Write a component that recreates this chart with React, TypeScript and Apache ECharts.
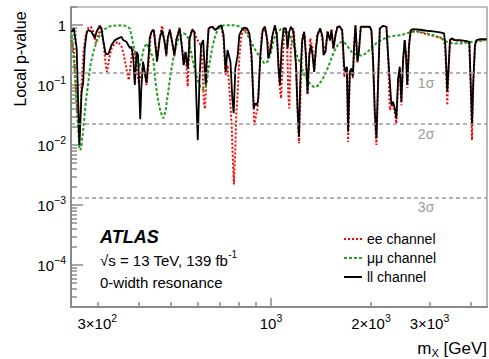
import React, { useEffect, useRef } from "react";
import * as echarts from "echarts";

// ---- data: [mass (GeV), local p-value] ----
const eeData: [number, number][] = [
  [251,0.562],[255,0.383],[260,0.0562],[265,0.0121],[269,0.100],[273,0.383],[277,0.681],[282,0.902],[287,0.937],[292,0.773],[297,0.495],[302,0.681],[307,0.881],[313,0.527],[318,0.215],[321,0.167],[326,0.279],[331,0.409],[339,0.495],[347,0.527],[355,0.435],[360.5,0.316],[367,0.190],[373,0.121],[379,0.245],[383,0.409],[389,0.316],[394,0.190],[400,0.107],[407,0.167],[414,0.215],[422,0.100],[428,0.215],[434,0.681],[440,0.825],
  [444,0.85],[454,0.27],[462.5,0.62],[470,0.97],[478,0.55],[484,0.30],[489,0.62],[496,0.85],[504,0.50],[512,0.30],[519,0.58],[531,0.90],[540,0.42],[546,0.22],[553,0.36],[561.5,0.094],[569,0.60],[579,0.85],[588,0.78],[596,0.6],[602,0.55],[609,0.5],[616,0.45],[622,0.2],[628,0.05],[633,0.04],[638,0.1],[643,0.36],[649,0.88],
  [665,0.97],[680,0.85],[696,0.95],[709,0.95],[720,0.56],[730,0.147],[740,0.215],[750,0.0825],[761.5,0.0215],[768,0.0056],[773,0.0022],[781,0.0088],[786,0.0316],[794,0.0773],[803,0.279],[812,0.600],[822,0.773],[835,0.881],[851,0.773],[867,0.527],[881,0.1135],[891,0.0215],[901.5,0.0316],[911.5,0.0409],[922,0.147],[937,0.681],[955,0.937],[977,0.527],[988,0.359],[1011,0.681],[1028,0.99],[1047,0.464],[1059,0.1135],[1072,0.060],[1084,0.215],[1096,0.881],[1117,0.681],[1127,0.0773],[1135,0.0409],[1148,0.409],[1169,0.881],[1191,0.215],[1202,0.0409],[1214,0.0107],[1231,0.1135],[1245,0.681],[1265,0.681],[1288,0.068],[1313,0.600],[1334,0.409],[1349,0.167],[1375,0.681],[1407,0.881],[1439,0.45],
  [1459,0.36],[1480,0.8],[1505,0.55],[1521,0.85],[1542,0.40],[1564,0.70],[1586,0.95],[1612,0.95],[1638,0.80],[1661,0.1375],[1676,0.16],[1692,0.2],[1707,0.0113],[1727,0.16],[1747,0.19],[1764,0.13],[1780,0.45],[1796,0.97],[1821,0.24],[1839,0.36],[1864,0.93],[1917,0.93],[1984,0.92],[2006,0.8],[2030,0.22],[2054,0.03],[2077,0.0100],[2101,0.1],[2126,0.87],[2175,0.96],[2226,0.93],[2252,0.3],[2279,0.0383],[2304,0.045],[2331,0.045],[2359,0.035],[2385,0.023],[2414,0.11],[2442,0.18],[2469,0.046],[2498,0.23],[2527,0.55],[2550,0.3],[2573,0.09],[2604,0.45],[2635,0.8],[2682,0.82],[2811,0.76],[2944,0.70],[3082,0.66],[3228,0.62],[3319,0.58],[3349,0.35],[3395,0.046],[3428,0.2],[3459,0.55],[3499,0.6],[3581,0.55],[3707,0.54],[3883,0.52],[3954,0.5],[3992,0.09],[4029,0.0121],[4064,0.1],[4113,0.45],[4161,0.55],[4258,0.56],[4461,0.57],
];

const mumuData: [number, number][] = [
  [251,0.68],[255,0.261],[258,0.1],[261,0.0316],[265,0.0088],[267,0.00825],[271.5,0.0158],[277,0.0527],[282,0.1135],[286,0.215],[292,0.359],[298.5,0.527],[305,0.681],[313,0.825],[324,0.937],[334,0.973],[351,0.99],[363,0.98],[376,0.881],[385.5,0.464],[395.6,0.245],[401,0.192],[407,0.261],[414,0.409],[422,0.495],[430,0.409],[442,0.279],[449,0.1135],[456,0.060],[465,0.0359],[474,0.0279],[481,0.0359],[489,0.0681],[498,0.147],[510,0.316],[522,0.527],[534,0.663],[546,0.727],[559,0.681],[572,0.409],[585,0.215],[599,0.129],[613,0.0937],[627,0.0825],[639,0.1],[649,0.19],[665,0.409],[680,0.681],[696,0.881],[720,0.99],[755,0.99],[781,0.99],[808,0.937],[831,0.825],[861,0.600],[891,0.409],[922,0.30],[955,0.230],[977,0.245],[1000,0.359],[1023,0.607],[1047,0.764],[1072,0.858],[1096,0.874],[1122,0.764],[1148,0.607],[1175,0.430],[1202,0.293],[1231,0.215],[1259,0.147],[1288,0.121],[1319,0.100],[1349,0.0925],[1381,0.0962],[1413,0.1135],[1446,0.141],[1487,0.2],[1521,0.282],[1557,0.383],[1594,0.482],[1630,0.527],[1669,0.50],[1707,0.43],[1747,0.359],[1808,0.323],[1872,0.31],[1938,0.341],[2006,0.414],[2077,0.50],[2150,0.562],[2252,0.638],[2359,0.663],[2469,0.681],[2563,0.727],[2682,0.773],[2811,0.773],[2944,0.727],[3082,0.681],[3228,0.614],[3381,0.527],[3539,0.495],[3707,0.495],[3883,0.507],[4064,0.527],[4258,0.541],[4461,0.562],
];

const llData: [number, number][] = [
  [251,0.764],[255,0.881],[260,0.414],[265,0.0100],[269,0.0764],[272,0.108],[275,0.414],[279,0.773],[282,0.825],[288,0.773],[295,0.607],[298.5,0.773],[305,0.973],[309,0.881],[313,0.527],[318,0.329],[324,0.329],[331,0.464],[339,0.562],[347,0.600],[355,0.638],[359,0.562],[367,0.527],[376,0.414],[380,0.435],[385,0.282],[389,0.100],[394,0.359],[398,0.316],[404,0.027],[407,0.089],[412,0.245],[417,0.158],[422,0.108],[427,0.245],[431.5,0.607],[437,0.773],[444,0.825],[454,0.245],[462.5,0.600],[470,0.825],[478,0.527],[484,0.316],[489,0.600],[496,0.825],[504,0.527],[512,0.316],[519,0.562],[531,0.881],[540,0.409],[546,0.215],[553,0.359],[561.5,0.190],[569,0.600],[579,0.825],[588,0.773],[596,0.060],[602,0.0121],[609,0.1135],[616,0.464],[625,0.562],[630,0.245],[636,0.100],[642,0.359],[649,0.881],[665,0.937],[680,0.825],[696,0.937],[709,0.99],[720,0.681],[730,0.167],[740,0.383],[755,0.245],[765,0.060],[772,0.034],[781,0.19],[794,0.316],[803,0.681],[816,0.825],[831,0.902],[847,0.881],[861,0.727],[874,0.316],[887,0.0409],[897,0.0495],[908,0.0464],[916,0.060],[929,0.316],[944,0.825],[959,0.937],[973,0.600],[981,0.279],[995,0.359],[1011,0.681],[1028,0.99],[1042,0.681],[1054,0.190],[1064,0.100],[1076,0.409],[1091,0.881],[1109,0.881],[1122,0.409],[1135,0.773],[1148,0.937],[1169,0.773],[1189,0.215],[1202,0.0409],[1214,0.01375],[1225,0.1135],[1240,0.527],[1259,0.773],[1274,0.316],[1288,0.0727],[1304,0.316],[1319,0.464],[1334,0.316],[1349,0.167],[1366,0.409],[1381,0.681],[1407,0.881],[1429,0.638],[1439,0.316],[1459,0.359],[1480,0.773],[1505,0.562],[1521,0.825],[1542,0.409],[1564,0.681],[1586,0.937],[1612,0.937],[1638,0.825],[1661,0.202],[1676,0.167],[1692,0.202],[1707,0.0167],[1727,0.167],[1747,0.190],[1764,0.1375],[1780,0.464],[1796,0.99],[1821,0.245],[1839,0.359],[1864,0.937],[1917,0.937],[1984,0.937],[2006,0.825],[2030,0.245],[2054,0.0359],[2077,0.01294],[2101,0.1135],[2126,0.881],[2175,0.973],[2226,0.937],[2252,0.316],[2279,0.1135],[2304,0.0464],[2331,0.0527],[2359,0.0409],[2385,0.0279],[2414,0.129],[2442,0.202],[2469,0.0527],[2498,0.261],[2527,0.562],[2550,0.316],[2573,0.100],[2604,0.464],[2635,0.825],[2682,0.858],[2811,0.835],[2944,0.804],[3082,0.785],[3228,0.755],[3319,0.727],[3349,0.464],[3395,0.0773],[3428,0.215],[3459,0.562],[3499,0.600],[3581,0.562],[3707,0.562],[3883,0.541],[3954,0.527],[3992,0.1135],[4029,0.0215],[4064,0.1135],[4113,0.464],[4161,0.562],[4258,0.584],[4461,0.584],
];

const seriesNames = ["ee channel", "\u03bc\u03bc channel", "ll channel"];
const sigmaLevels = [0.158655, 0.02275, 0.00135];
const sigmaLabels = ["1\u03c3", "2\u03c3", "3\u03c3"];
const sigmaLabelMass = 2930;

const xMin = 250;
const xMax = 4470;
const yMin = 2e-5;
const yMax = 2;

const xLabelValues = [300, 1000, 2000, 3000];
const xLabelTexts = ["{b|3\u00d710}{s|2}", "{b|10}{s|3}", "{b|2\u00d710}{s|3}", "{b|3\u00d710}{s|3}"];
const xMajorTicks = [1000];
const xMinorTicks = [300, 400, 500, 600, 700, 800, 900, 2000, 3000, 4000];
const yMajorTicks = [1e-4, 1e-3, 1e-2, 1e-1, 1];

const FONT = "'Liberation Sans', Arial, Helvetica, sans-serif";
const FRAME = "#8a8a8a";

const lg = (v: number) => Math.log10(v);

export default function App() {
  const ref = useRef<HTMLDivElement>(null);

  useEffect(() => {
    if (!ref.current) return;
    document.body.style.margin = "0";
    const chart = echarts.init(ref.current, null, { renderer: "svg" });

    const yMinor: number[] = [];
    for (let d = -5; d <= 0; d++) {
      for (let k = 2; k <= 9; k++) {
        const v = k * Math.pow(10, d);
        if (v >= yMin && v <= yMax) yMinor.push(lg(v));
      }
    }

    const richLabel = {
      b: { fontSize: 15, lineHeight: 22, fontFamily: FONT, color: "#000" },
      s: { fontSize: 10.5, verticalAlign: "top", fontFamily: FONT, color: "#000" },
    };

    const toLog = (arr: [number, number][]) => arr.map(([m, p]) => [lg(m), lg(p)]);

    const baseX = {
      type: "value",
      min: lg(xMin),
      max: lg(xMax),
      position: "bottom",
      splitLine: { show: false },
    };
    const baseY = {
      type: "value",
      min: lg(yMin),
      max: lg(yMax),
      position: "left",
      splitLine: { show: false },
    };

    const option: any = {
      animation: false,
      grid: {
        left: 71,
        right: 2,
        top: 7,
        bottom: 52,
        show: true,
        borderColor: FRAME,
        borderWidth: 1.2,
        backgroundColor: "transparent",
      },
      legend: {
        data: seriesNames,
        orient: "vertical",
        left: 338,
        top: 227,
        itemWidth: 18,
        itemHeight: 14,
        itemGap: 5,
        itemStyle: { opacity: 0 },
        textStyle: { fontSize: 14, fontFamily: FONT, color: "#000" },
      },
      xAxis: [
        {
          ...baseX,
          axisLine: { show: true, onZero: false, lineStyle: { color: FRAME, width: 2 } },
          axisTick: {
            show: true,
            inside: true,
            length: 9,
            customValues: xMajorTicks.map(lg),
            lineStyle: { color: FRAME, width: 1.5 },
          },
          axisLabel: {
            show: true,
            margin: 5,
            customValues: xLabelValues.map(lg),
            formatter: (v: number) => {
              const m = Math.round(Math.pow(10, v));
              const i = xLabelValues.indexOf(m);
              return i >= 0 ? xLabelTexts[i] : "";
            },
            rich: richLabel,
          },
        },
        {
          ...baseX,
          axisLine: { show: false, onZero: false },
          axisTick: {
            show: true,
            inside: true,
            length: 5,
            customValues: xMinorTicks.map(lg),
            lineStyle: { color: FRAME, width: 1.5 },
          },
          axisLabel: { show: false },
        },
      ],
      yAxis: [
        {
          ...baseY,
          axisLine: { show: true, onZero: false, lineStyle: { color: FRAME, width: 2 } },
          axisTick: {
            show: true,
            inside: true,
            length: 12,
            customValues: yMajorTicks.map(lg),
            lineStyle: { color: FRAME, width: 1.5 },
          },
          axisLabel: {
            show: true,
            margin: 5,
            customValues: yMajorTicks.map(lg),
            formatter: (v: number) => {
              const e = Math.round(v);
              return e === 0 ? "{b|1}" : `{b|10}{s|\u2212${-e}}`;
            },
            rich: richLabel,
          },
        },
        {
          ...baseY,
          axisLine: { show: false, onZero: false },
          axisTick: {
            show: true,
            inside: true,
            length: 6,
            customValues: yMinor,
            lineStyle: { color: FRAME, width: 1.5 },
          },
          axisLabel: { show: false },
        },
      ],
      series: [
        {
          name: seriesNames[0],
          type: "line",
          data: toLog(eeData),
          showSymbol: false,
          symbol: "none",
          color: "#ff0000",
          lineStyle: { color: "#ff0000", width: 2, type: [2, 2] },
          z: 2,
          markLine: {
            silent: true,
            symbol: ["none", "none"],
            label: { show: false },
            lineStyle: { color: "#9a9a9a", width: 1.5, type: [4, 3] },
            data: sigmaLevels.map((p) => ({ yAxis: lg(p) })),
          },
          markPoint: {
            silent: true,
            symbol: "circle",
            symbolSize: 1,
            itemStyle: { color: "rgba(0,0,0,0)" },
            label: {
              show: true,
              formatter: "{b}",
              color: "#9a9a9a",
              fontSize: 14,
              fontFamily: FONT,
              offset: [0, 10],
            },
            data: sigmaLevels.map((p, i) => ({
              name: sigmaLabels[i],
              coord: [lg(sigmaLabelMass), lg(p)],
            })),
          },
        },
        {
          name: seriesNames[1],
          type: "line",
          data: toLog(mumuData),
          showSymbol: false,
          symbol: "none",
          color: "#22a022",
          lineStyle: { color: "#22a022", width: 2, type: [3, 2] },
          z: 3,
        },
        {
          name: seriesNames[2],
          type: "line",
          data: toLog(llData),
          showSymbol: false,
          symbol: "none",
          color: "#000",
          lineStyle: { color: "#000", width: 1.8 },
          z: 4,
        },
      ],
      graphic: [
        {
          type: "text",
          x: 20,
          y: 59,
          rotation: Math.PI / 2,
          style: {
            text: "Local p-value",
            fontSize: 16,
            fontFamily: FONT,
            fill: "#000",
            align: "center",
            verticalAlign: "middle",
            textAlign: "center",
            textVerticalAlign: "middle",
          },
        },
        {
          type: "text",
          right: 2,
          top: 340,
          style: {
            text: "{m|m}{x|X}{m| [GeV]}",
            fill: "#000",
            rich: {
              m: { fontSize: 17, lineHeight: 20, fontFamily: FONT, color: "#000" },
              x: { fontSize: 11, verticalAlign: "bottom", fontFamily: FONT, color: "#000" },
            },
          },
        },
        {
          type: "text",
          x: 100,
          y: 237,
          style: {
            text: "ATLAS",
            fontSize: 18,
            fontWeight: "bold",
            fontStyle: "italic",
            fontFamily: FONT,
            fill: "#000",
            verticalAlign: "middle",
            textVerticalAlign: "middle",
          },
        },
        {
          type: "text",
          x: 100,
          y: 260,
          style: {
            text: "{b|\u221as = 13 TeV, 139 fb}{s|-1}",
            verticalAlign: "middle",
            textVerticalAlign: "middle",
            rich: {
              b: { fontSize: 15, lineHeight: 22, fontFamily: FONT, color: "#000" },
              s: { fontSize: 10, verticalAlign: "top", fontFamily: FONT, color: "#000" },
            },
          },
        },
        {
          type: "text",
          x: 100,
          y: 282,
          style: {
            text: "0-width resonance",
            fontSize: 15,
            fontFamily: FONT,
            fill: "#000",
            verticalAlign: "middle",
            textVerticalAlign: "middle",
          },
        },
      ],
    };

    chart.setOption(option);
    return () => chart.dispose();
  }, []);

  return (
    <div
      ref={ref}
      style={{ position: "absolute", left: 0, top: 0, width: 489, height: 359 }}
    />
  );
}
